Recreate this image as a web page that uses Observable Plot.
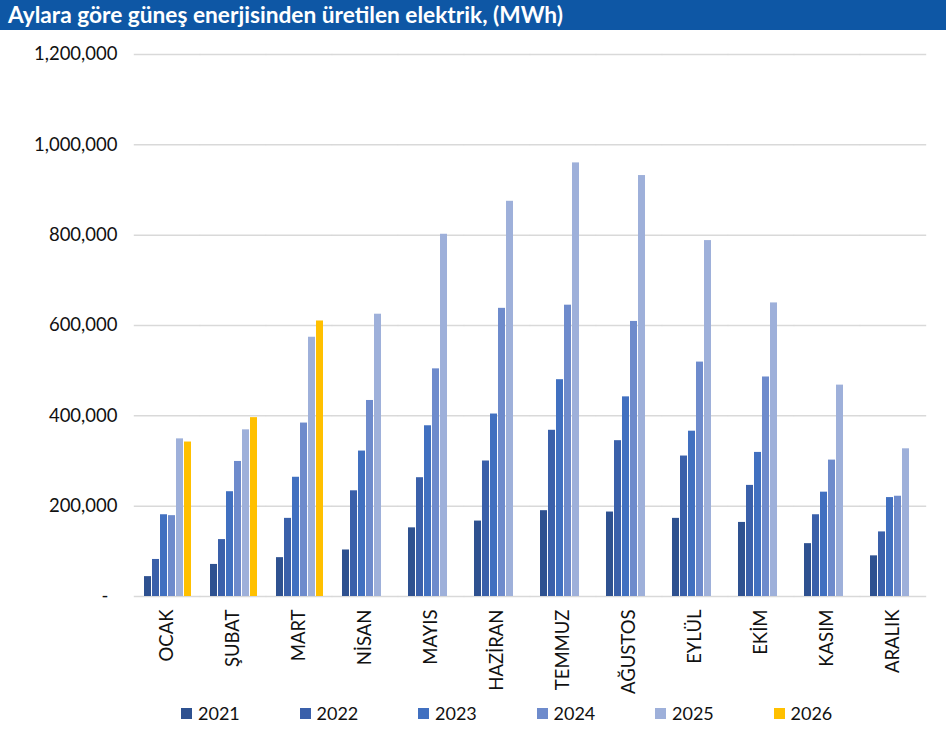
<!DOCTYPE html>
<html>
<head>
<meta charset="utf-8">
<script src="https://cdn.jsdelivr.net/npm/d3@7"></script>
<script src="https://cdn.jsdelivr.net/npm/@observablehq/plot@0.6"></script>
<style>
  body { margin: 0; background: #fff; font-family: Lato, "Open Sans", sans-serif; }
  #title { width: 946px; height: 30px; background: #0e57a5; color: #fff; font-weight: bold; font-size: 22.7px; line-height: 29px; padding-left: 8px; box-sizing: border-box; white-space: nowrap; }
  #legend { display: flex; padding-left: 181px; height: 36px; align-items: center; font-size: 18px; color: #111; }
  #legend .item { width: 118.5px; display: flex; align-items: center; }
  #legend .sw { width: 11px; height: 11px; margin-right: 6px; }
</style>
</head>
<body>
<div id="title">Aylara göre güneş enerjisinden üretilen elektrik, (MWh)</div>
<div id="chart"></div>
<div id="legend"></div>
<script>
const months = ["OCAK","ŞUBAT","MART","NİSAN","MAYIS","HAZİRAN","TEMMUZ","AĞUSTOS","EYLÜL","EKİM","KASIM","ARALIK"];
const years = ["2021","2022","2023","2024","2025","2026"];
const colors = ["#2e5190","#3a60aa","#4170c0","#6e8bcc","#9eb0da","#ffc000"];
const v2021 = [44000, 71000, 86000, 103000, 152000, 167000, 190000, 187000, 173000, 164000, 117000, 90000];
const v2022 = [82000, 126000, 173000, 234000, 263000, 300000, 368000, 345000, 311000, 246000, 181000, 143000];
const v2023 = [181000, 232000, 264000, 322000, 378000, 404000, 480000, 442000, 366000, 319000, 231000, 219000];
const v2024 = [179000, 299000, 384000, 434000, 504000, 638000, 645000, 609000, 519000, 486000, 302000, 222000];
const v2025 = [349000, 369000, 574000, 625000, 802000, 875000, 960000, 932000, 788000, 650000, 468000, 327000];
const v2026 = [342000, 396000, 610000, null, null, null, null, null, null, null, null, null];
const yTicks = [0, 200000, 400000, 600000, 800000, 1000000, 1200000];

const series = [v2021, v2022, v2023, v2024, v2025, v2026];
const data = [];
months.forEach((m, i) => {
  series.forEach((s, j) => {
    if (s[i] != null) data.push({month: m, year: years[j], value: s[i]});
  });
});

const fmt = d3.format(",");
const chart = Plot.plot({
  width: 949,
  height: 665,
  marginLeft: 132,
  marginRight: 22,
  marginTop: 24,
  marginBottom: 99,
  style: {fontFamily: "Lato, 'Open Sans', sans-serif", fontSize: "18.5px", color: "#111", background: "#fff"},
  fx: {domain: months, paddingInner: 0.215, paddingOuter: 0.1075, label: null, tickSize: 0, tickPadding: 13, tickRotate: -90},
  x: {domain: years, paddingInner: 0.15, paddingOuter: 0, axis: null},
  y: {domain: [0, 1200000], ticks: yTicks, tickSize: 0, tickPadding: 24, label: null,
      tickFormat: d => d === 0 ? "-\u2002" : fmt(d)},
  color: {domain: years, range: colors},
  marks: [
    Plot.ruleY(yTicks, {stroke: "#d9d9d9", strokeWidth: 1.5, insetLeft: -7.2, insetRight: -7.2}),
    Plot.barY(data, {fx: "month", x: "year", y: "value", fill: "year"})
  ]
});
document.getElementById("chart").appendChild(chart);

const lg = document.getElementById("legend");
years.forEach((y, i) => {
  const it = document.createElement("div");
  it.className = "item";
  it.innerHTML = `<span class="sw" style="background:${colors[i]}"></span><span>${y}</span>`;
  lg.appendChild(it);
});
</script>
</body>
</html>
